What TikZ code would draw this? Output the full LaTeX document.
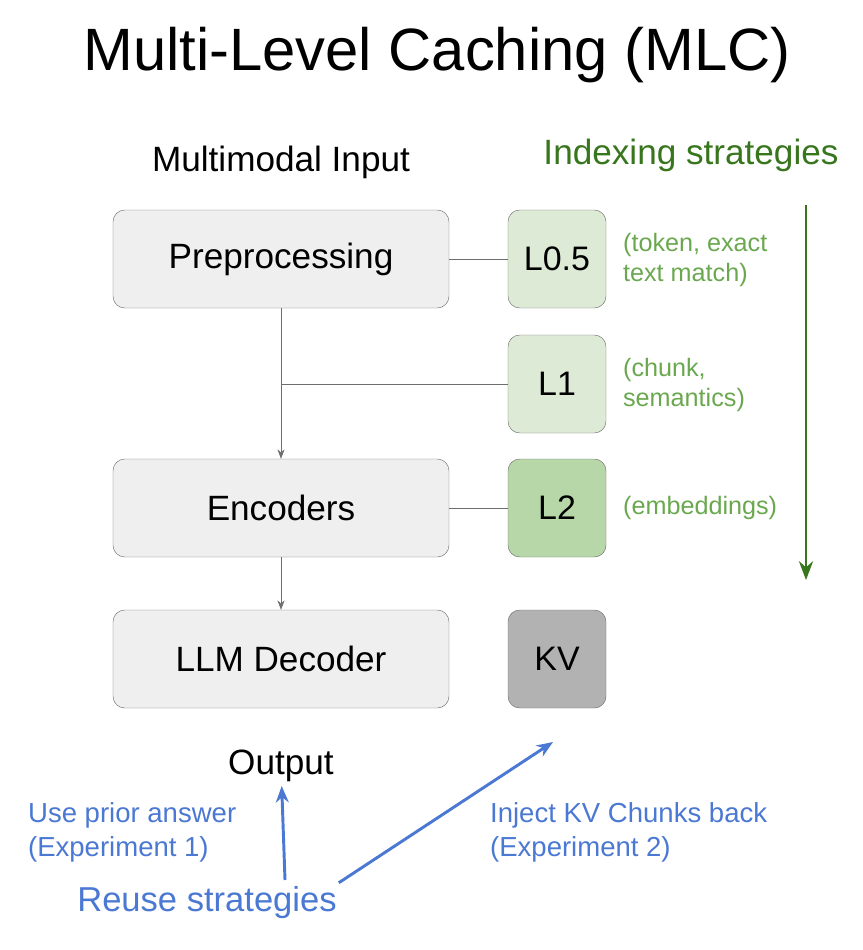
\documentclass[tikz,border=0pt]{standalone}
\usepackage{fontspec}
\setmainfont{Liberation Sans}
\usetikzlibrary{arrows.meta,positioning}
\definecolor{boxgray}{RGB}{239,239,239}
\definecolor{edgegray}{RGB}{110,110,110}
\definecolor{lightgreen}{RGB}{221,235,214}
\definecolor{midgreen}{RGB}{183,215,168}
\definecolor{kvgray}{RGB}{178,178,178}
\definecolor{notegreen}{RGB}{106,168,79}
\definecolor{darkgreen}{RGB}{56,118,29}
\definecolor{reuseblue}{RGB}{74,120,210}

\tikzset{
  stage/.style={draw=edgegray, fill=boxgray, rounded corners=10pt, minimum width=336*0.03cm, minimum height=98*0.03cm, font=\fontsize{30}{34}\selectfont},
  level/.style={draw=edgegray, rounded corners=10pt, minimum width=98*0.03cm, minimum height=98*0.03cm, font=\fontsize{29}{34}\selectfont},
  note/.style={anchor=west, align=left, text=notegreen, font=\fontsize{21.5}{26}\selectfont},
  reuse/.style={anchor=west, align=left, text=reuseblue, font=\fontsize{23.5}{29}\selectfont},
}

\begin{document}
\begin{tikzpicture}[x=0.03cm, y=-0.03cm]
  \useasboundingbox (0,0) rectangle (862,950);

  \node[font=\fontsize{51}{56}\selectfont] (title) at (437,55) {Multi-Level Caching (MLC)};
  \node[font=\fontsize{30}{34}\selectfont] (input) at (281,162) {Multimodal Input};

  % Pipeline stages
  \node[stage] (pre) at (281,259) {Preprocessing};
  \node[stage] (enc) at (281,508) {Encoders};
  \node[stage] (dec) at (281,659) {LLM Decoder};

  % Cache levels
  \node[level, fill=lightgreen] (l05) at (557,259) {L0.5};
  \node[level, fill=lightgreen] (l1) at (557,384) {L1};
  \node[level, fill=midgreen] (l2) at (557,508) {L2};
  \node[level, fill=kvgray] (kv) at (557,659) {KV};

  \coordinate (tap) at (281,384);
  \draw[edgegray] (pre) -- (l05);
  \draw[edgegray, -{Stealth[length=8pt]}] (pre) -- (enc);
  \draw[edgegray] (tap) -- (l1);
  \draw[edgegray] (enc) -- (l2);
  \draw[edgegray, -{Stealth[length=8pt]}] (enc) -- (dec);

  % Indexing notes
  \node[note] (n05) at (619,260) {(token, exact\\text match)};
  \node[note] (n1) at (619,385) {(chunk,\\semantics)};
  \node[note] (n2) at (619,508) {(embeddings)};

  \node[text=darkgreen, font=\fontsize{30}{34}\selectfont] (index) at (691,155) {Indexing strategies};
  \coordinate (idxtop) at (806,205);
  \coordinate (idxbot) at (806,580);
  \draw[darkgreen, line width=2.5pt, -{Stealth[length=16pt,width=12pt]}] (idxtop) -- (idxbot);

  % Reuse strategies
  \node[font=\fontsize{30}{34}\selectfont] (out) at (281,766) {Output};
  \node[reuse] (prior) at (24,832) {Use prior answer\\(Experiment 1)};
  \node[reuse] (inject) at (486,832) {Inject KV Chunks back\\(Experiment 2)};
  \node[text=reuseblue, font=\fontsize{29.5}{34}\selectfont] (reusen) at (207,903) {Reuse strategies};
  \coordinate (kvin) at (553,742);
  \draw[reuseblue, line width=2.5pt, -{Stealth[length=14pt,width=11pt]}] (285,880) -- (out);
  \draw[reuseblue, line width=2.5pt, -{Stealth[length=14pt,width=11pt]}] (reusen.north east) ++(-2,0) -- (kvin);
\end{tikzpicture}
\end{document}
